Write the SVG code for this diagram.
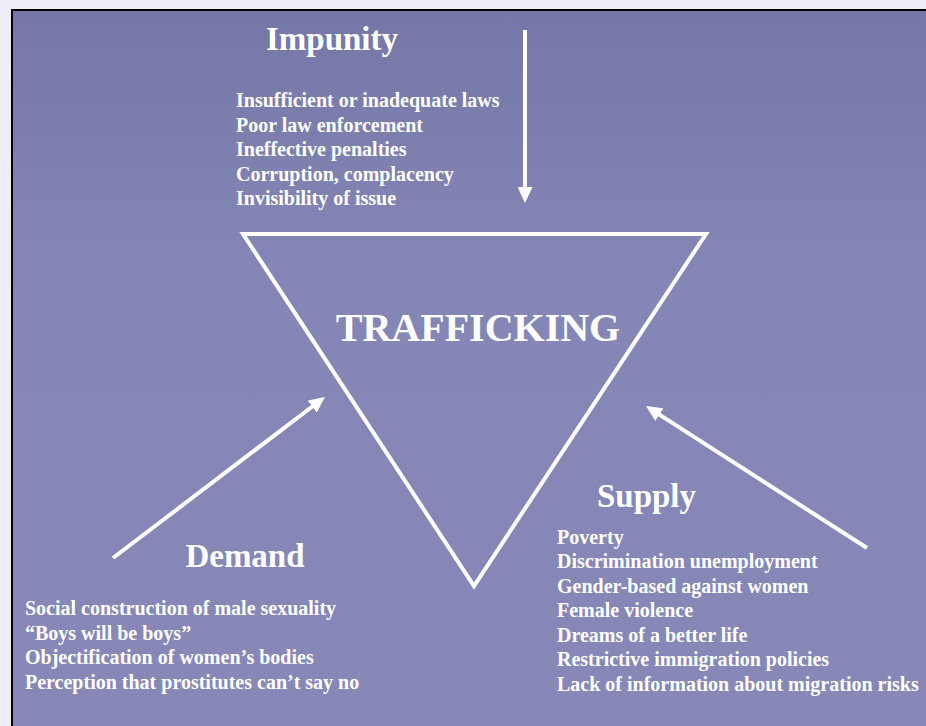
<svg xmlns="http://www.w3.org/2000/svg" width="926" height="726" viewBox="0 0 926 726">
<defs>
<linearGradient id="bg" x1="0" y1="0" x2="0" y2="1">
<stop offset="0" stop-color="#7578a7"/>
<stop offset="0.35" stop-color="#8486b6"/>
<stop offset="1" stop-color="#8788b8"/>
</linearGradient>
<marker id="ah" markerUnits="userSpaceOnUse" markerWidth="16" markerHeight="15" refX="6" refY="7.5" orient="auto">
<path d="M0,0 L16,7.5 L0,15 z" fill="#ffffff"/>
</marker>
<style>
text{font-family:"Liberation Serif","Times New Roman",serif;font-weight:bold;fill:#ffffff}
.h{font-size:33px;text-anchor:middle}
.t{font-size:40px;text-anchor:middle}
.l{font-size:20px}
.arr{stroke:#ffffff;stroke-width:4;fill:none;marker-end:url(#ah)}
</style>
</defs>
<rect x="0" y="0" width="926" height="726" fill="#eeecf6"/>
<rect x="12" y="10" width="930" height="730" fill="url(#bg)" stroke="#000000" stroke-width="2"/>
<g id="connectors">
<line class="arr" x1="525" y1="30" x2="525" y2="193"/>
<line class="arr" x1="113" y1="558" x2="317" y2="403"/>
<line class="arr" x1="867" y1="548" x2="654.4" y2="411.4"/>
</g>
<g id="trafficking">
<polygon points="243,234 706,234 474,586" fill="none" stroke="#ffffff" stroke-width="4"/>
<text class="t" x="478" y="341">TRAFFICKING</text>
</g>
<g id="impunity">
<text class="h" x="332" y="50">Impunity</text>
<text class="l" x="236" y="107">Insufficient or inadequate laws</text>
<text class="l" x="236" y="131.5">Poor law enforcement</text>
<text class="l" x="236" y="156">Ineffective penalties</text>
<text class="l" x="236" y="180.5">Corruption, complacency</text>
<text class="l" x="236" y="205">Invisibility of issue</text>
</g>
<g id="demand">
<text class="h" x="245" y="567">Demand</text>
<text class="l" x="25" y="615">Social construction of male sexuality</text>
<text class="l" x="25" y="639.5">“Boys will be boys”</text>
<text class="l" x="25" y="664">Objectification of women’s bodies</text>
<text class="l" x="25" y="688.5">Perception that prostitutes can’t say no</text>
</g>
<g id="supply">
<text class="h" x="646.5" y="507">Supply</text>
<text class="l" x="557" y="543.5">Poverty</text>
<text class="l" x="557" y="568">Discrimination unemployment</text>
<text class="l" x="557" y="592.5">Gender-based against women</text>
<text class="l" x="557" y="617">Female violence</text>
<text class="l" x="557" y="641.5">Dreams of a better life</text>
<text class="l" x="557" y="666">Restrictive immigration policies</text>
<text class="l" x="557" y="690.5">Lack of information about migration risks</text>
</g>
</svg>
